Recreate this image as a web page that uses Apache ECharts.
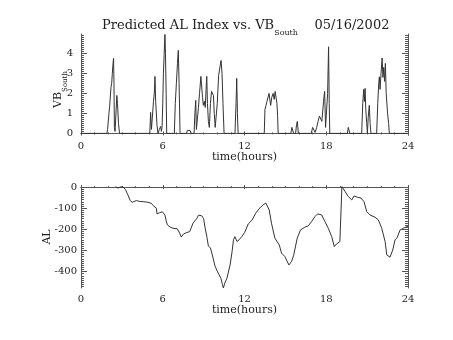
<!DOCTYPE html>
<html><head><meta charset="utf-8">
<script src="https://cdn.jsdelivr.net/npm/echarts@6/dist/echarts.min.js"></script>
<style>html,body{margin:0;padding:0;background:#fff}#c{width:453px;height:340px}</style>
</head><body><div id="c"></div>
<script>
const vbHours = [0,1.9,1.95,2.05,2.1,2.2,2.25,2.3,2.35,2.39,2.42,2.45,2.5,2.58,2.63,2.68,2.75,2.83,
5.05,5.11,5.17,5.25,5.32,5.38,5.43,5.48,5.52,5.58,5.65,5.75,5.85,5.9,5.95,6.0,6.05,6.1,6.16,6.2,6.25,6.29,
6.85,6.92,7.0,7.08,7.14,7.2,7.27,7.75,7.8,8.0,8.1,8.3,8.36,8.42,8.47,8.55,8.62,8.7,8.8,8.86,8.92,8.98,
9.05,9.12,9.18,9.23,9.28,9.35,9.42,9.5,9.58,9.65,9.72,9.78,9.85,9.92,10.0,10.1,10.2,10.28,10.35,10.42,10.5,
11.3,11.38,11.43,11.48,11.53,13.45,13.5,13.58,13.65,13.72,13.8,13.86,13.92,14.0,14.1,14.18,14.25,14.33,14.38,14.43,14.47,
15.4,15.48,15.55,15.6,15.75,15.82,15.88,15.95,16.9,17.0,17.1,17.18,17.3,17.4,17.5,17.58,17.68,17.8,17.88,17.95,
18.05,18.1,18.17,18.22,18.26,19.55,19.62,19.68,19.73,20.6,20.68,20.75,20.8,20.85,20.9,20.97,21.02,21.08,21.16,21.22,21.28,
21.7,21.78,21.85,21.9,21.95,22.02,22.1,22.16,22.22,22.28,22.34,22.4,22.5,22.58,22.63,24];
const vbValues = [0,0,0.2,1.0,1.33,2.3,2.5,3.0,3.5,3.75,2.5,0.3,0.1,1.2,1.9,1.5,0.5,0,
0,1.05,0.2,0.3,1.6,2.0,2.85,1.6,1.7,0.4,0,0.2,0.35,0.1,0.3,1.5,3.0,3.9,4.95,4.0,2.0,0,
0,1.5,2.5,3.5,4.15,2.5,0,0,0.15,0.15,0,0,1.0,1.65,0.2,0.3,1.3,2.0,2.85,2.8,1.8,1.4,
1.6,1.3,2.2,2.85,1.5,0.6,0.3,1.5,2.1,2.0,1.9,1.0,0.3,0.2,1.5,2.9,3.0,3.65,3.0,1.5,0,
0,1.5,2.75,1.0,0,0,1.2,1.4,1.6,1.5,2.0,2.1,1.4,1.8,2.0,1.7,2.1,2.2,1.5,0.9,0,
0,0.3,0.3,0,0,0.45,0.6,0,0,0.3,0.33,0.05,0.3,0.6,0.87,0.8,0.6,1.6,2.1,0.3,
0.4,2.0,4.33,1.5,0,0,0.3,0.3,0,0,1.5,2.2,1.6,2.25,1.2,0.5,0,0.8,1.4,0.5,0,
0,1.5,2.5,2.83,2.2,3.0,3.77,2.8,3.3,2.6,3.5,2.0,1.0,0.5,0,0];

const alHours = [2.54,2.71,2.78,2.88,3.07,3.27,3.44,3.61,3.76,4.06,4.3,4.54,4.91,5.16,5.3,5.4,5.53,5.58,5.75,5.97,
6.16,6.25,6.34,6.41,6.55,6.75,7.07,7.24,7.36,7.53,7.73,7.85,7.98,8.22,8.51,8.62,8.86,9.0,9.1,9.25,9.35,9.5,9.6,
9.84,10.0,10.1,10.28,10.38,10.45,10.55,10.7,10.94,11.1,11.19,11.3,11.45,11.6,11.8,12.02,12.27,12.55,12.82,13.05,
13.37,13.57,13.81,13.98,14.23,14.55,14.72,14.96,15.26,15.45,15.6,15.87,16.11,16.43,16.68,16.93,17.17,17.37,17.66,
17.9,18.15,18.4,18.59,18.76,19.0,19.1,19.15,19.38,19.62,19.87,20.04,20.28,20.55,20.77,20.97,21.21,21.58,21.82,
22.07,22.32,22.44,22.68,22.88,23.05,23.2,23.42,23.66,23.84,24.0];
const alValues = [2,-5,-13,0,2,-13,-37,-64,-72,-64,-68,-69,-72,-77,-88,-84,-100,-127,-122,-117,
-132,-160,-179,-187,-190,-195,-198,-218,-237,-222,-216,-222,-211,-171,-148,-133,-136,-150,-190,-240,-280,-288,-312,
-375,-398,-402,-434,-462,-478,-455,-434,-370,-300,-250,-235,-258,-250,-235,-214,-175,-157,-124,-104,
-84,-76,-108,-171,-242,-274,-313,-329,-369,-353,-325,-242,-203,-190,-184,-163,-140,-127,-132,
-163,-195,-235,-282,-269,-258,-250,2,-21,-45,-61,-42,-48,-52,-69,-116,-132,-143,-155,
-195,-258,-321,-332,-298,-250,-240,-203,-195,-190,-185];

const timeTicks = [0, 6, 12, 18, 24];
const vbTicks = [0, 1, 2, 3, 4];
const alTicks = [0, -100, -200, -300, -400];

function minorList(lo, hi, step) {
  const out = [];
  for (let v = lo; v <= hi + 1e-9; v += step) out.push(Math.round(v * 1000) / 1000);
  return out;
}
const vbMinor = minorList(0, 4.9, 0.1);
const alMinor = minorList(-470, 0, 10);

const FONT = 'DejaVu Serif';
const AX = '#555';
const TXT = '#222';

function xAxes(grid) {
  const base = {
    type: 'value', gridIndex: grid, min: 0, max: 24, interval: 6,
    axisLine: { show: true, lineStyle: { color: AX, width: 1 } },
    axisTick: { show: true, inside: true, length: 2, lineStyle: { color: AX } },
    minorTick: { show: true, splitNumber: 6, length: 1, lineStyle: { color: AX } },
    splitLine: { show: false }, minorSplitLine: { show: false }
  };
  return [
    Object.assign({}, base, {
      position: 'bottom',
      axisLabel: { show: true, margin: 6, color: TXT, fontFamily: FONT, fontSize: 10,
        customValues: timeTicks },
      name: 'time(hours)', nameLocation: 'middle', nameGap: 16.5, nameMoveOverlap: false,
      nameTextStyle: { color: TXT, fontFamily: FONT, fontSize: 11 }
    }),
    Object.assign({}, base, { position: 'top', axisLabel: { show: false } })
  ];
}

function yAxes(grid, min, max, ticks, minors, labelMargin, nameCfg) {
  const common = {
    type: 'value', gridIndex: grid, min: min, max: max,
    splitLine: { show: false }
  };
  return [
    Object.assign({}, common, {
      position: 'left',
      axisLine: { show: true, lineStyle: { color: AX, width: 1 } },
      axisTick: { show: true, inside: true, length: 6, customValues: ticks, lineStyle: { color: AX } },
      axisLabel: { show: true, customValues: ticks, margin: labelMargin, color: TXT, fontFamily: FONT, fontSize: 10 }
    }, nameCfg),
    Object.assign({}, common, {
      position: 'left',
      axisLine: { show: false },
      axisTick: { show: true, inside: true, length: 3, customValues: minors, lineStyle: { color: AX } },
      axisLabel: { show: false }
    }),
    Object.assign({}, common, {
      position: 'right',
      axisLine: { show: true, lineStyle: { color: AX, width: 1 } },
      axisTick: { show: true, inside: true, length: 6, customValues: ticks, lineStyle: { color: AX } },
      axisLabel: { show: false }
    }),
    Object.assign({}, common, {
      position: 'right',
      axisLine: { show: false },
      axisTick: { show: true, inside: true, length: 3, customValues: minors, lineStyle: { color: AX } },
      axisLabel: { show: false }
    })
  ];
}

const option = {
  animation: false,
  backgroundColor: '#fff',
  title: {
    text: '{m|Predicted AL Index vs. VB}{s|South}{m|    05/16/2002}',
    left: 102, top: 19, padding: 0,
    textStyle: {
      fontWeight: 'normal',
      rich: {
        m: { fontFamily: FONT, fontSize: 13, color: TXT, lineHeight: 14, verticalAlign: 'top' },
        s: { fontFamily: FONT, fontSize: 8, color: TXT, lineHeight: 18, verticalAlign: 'bottom' }
      }
    }
  },
  grid: [
    { left: 81, top: 34, width: 327, height: 101 },
    { left: 81, top: 186, width: 327, height: 102 }
  ],
  xAxis: xAxes(0).concat(xAxes(1)),
  yAxis: yAxes(0, -0.08, 4.97, vbTicks, vbMinor, 8, {
      name: '{m|VB}{s|South}', nameLocation: 'middle', nameRotate: 90, nameGap: 12,
      nameMoveOverlap: false,
      nameTextStyle: { padding: [0, 10, 0, 0], rich: {
        m: { fontFamily: FONT, fontSize: 11, color: TXT, lineHeight: 12, verticalAlign: 'top' },
        s: { fontFamily: FONT, fontSize: 7, color: TXT, lineHeight: 16, verticalAlign: 'bottom' }
      } }
    }).concat(yAxes(1, -478, 5, alTicks, alMinor, 4, {
      name: 'AL', nameLocation: 'middle', nameRotate: 90, nameGap: 28, nameMoveOverlap: false,
      nameTextStyle: { color: TXT, fontFamily: FONT, fontSize: 11 }
    })),
  series: [
    {
      type: 'line', xAxisIndex: 0, yAxisIndex: 0,
      data: vbHours.map((h, i) => [h, vbValues[i]]),
      showSymbol: false, lineStyle: { color: '#333', width: 1 }, silent: true
    },
    {
      type: 'line', xAxisIndex: 2, yAxisIndex: 4,
      data: alHours.map((h, i) => [h, alValues[i]]),
      showSymbol: false, lineStyle: { color: '#333', width: 1 }, silent: true
    }
  ]
};
const chart = echarts.init(document.getElementById('c'), null, { renderer: 'canvas' });
chart.setOption(option);
</script>
</body></html>
